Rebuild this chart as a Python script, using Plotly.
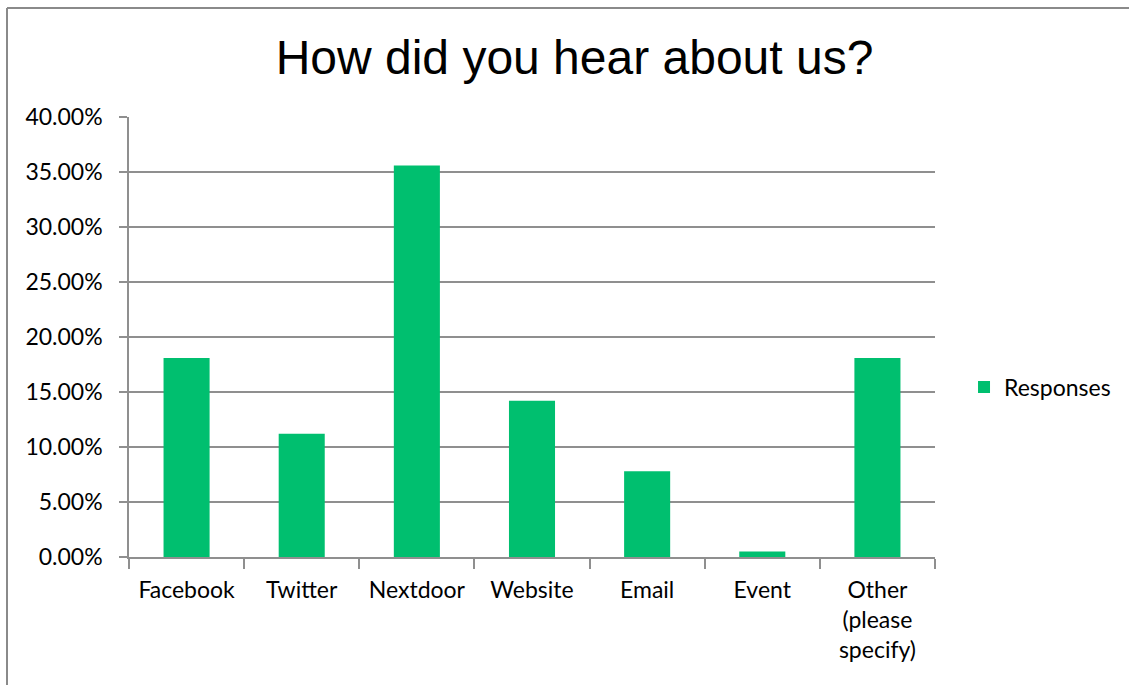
import plotly.graph_objects as go

categories = ["Facebook", "Twitter", "Nextdoor", "Website", "Email", "Event",
              "Other<br>(please<br>specify)"]
responses = [0.181, 0.112, 0.356, 0.142, 0.078, 0.005, 0.181]
series_name = "Responses"
title_text = "How did you hear about us?"
y_ticks = [0.0, 0.05, 0.10, 0.15, 0.20, 0.25, 0.30, 0.35, 0.40]

W, H = 1129, 685
L, R, T, B = 129, 194, 117, 128

GREEN = "#00BF6F"
GRID = "#8f8f8f"
FONT = "Lato"

fig = go.Figure()
fig.add_trace(go.Bar(
    x=categories, y=responses, name=series_name,
    marker=dict(color=GREEN, line=dict(width=0)),
    showlegend=True,
))

fig.update_layout(
    width=W, height=H,
    margin=dict(l=L, r=R, t=T, b=B, pad=0),
    paper_bgcolor="white", plot_bgcolor="white",
    bargap=0.6,
    font=dict(family=FONT, size=23, color="#000000"),
    title=dict(text=title_text, x=574.5 / W, xanchor="center",
               y=1 - 57 / H, yanchor="middle",
               font=dict(family="Liberation Sans", size=48, color="#000000")),
    legend=dict(x=1.036, xanchor="left", y=0.386, yanchor="middle",
                font=dict(family=FONT, size=23), bgcolor="rgba(0,0,0,0)",
                itemwidth=30),
    xaxis=dict(
        showline=True, linecolor=GRID, linewidth=1.5,
        ticks="outside", tickson="boundaries", ticklen=10,
        tickcolor=GRID, tickwidth=1.5,
        ticklabelstandoff=12,
        showgrid=False, fixedrange=True,
    ),
    yaxis=dict(
        range=[0, 0.4], tickvals=y_ticks, tickformat=".2%",
        showline=True, linecolor=GRID, linewidth=1.5,
        ticks="outside", ticklen=8, tickcolor=GRID, tickwidth=1.5,
        ticklabelstandoff=12,
        showgrid=True, gridcolor=GRID, gridwidth=1.5,
        zeroline=False, fixedrange=True,
    ),
)

# outer chart frame: top and left edges only are within the page
x_left = (7 - L) / (W - L - R)
y_top = (H - B - 8) / (H - T - B)
fig.add_shape(type="line", xref="paper", yref="paper",
              x0=x_left, x1=3, y0=y_top, y1=y_top,
              line=dict(color="#8a8a8a", width=2))
fig.add_shape(type="line", xref="paper", yref="paper",
              x0=x_left, x1=x_left, y0=y_top, y1=-3,
              line=dict(color="#8a8a8a", width=2))

fig.write_html("out.html", config={"displayModeBar": False})
